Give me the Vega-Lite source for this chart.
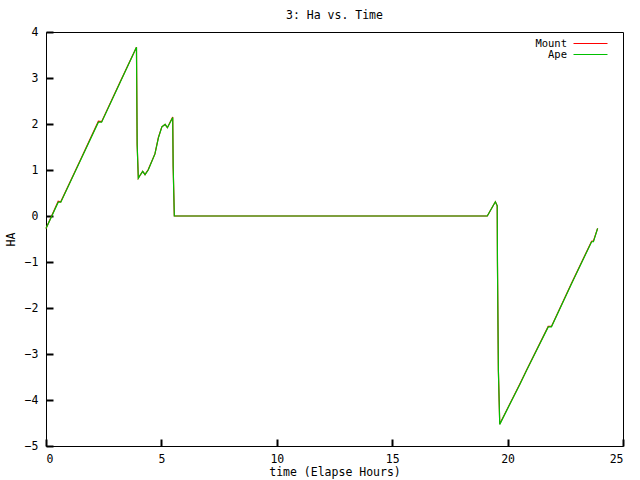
{
  "$schema": "https://vega.github.io/schema/vega-lite/v6.json",
  "width": 577,
  "height": 414,
  "autosize": {"type": "none"},
  "padding": {"left": 46, "top": 32, "right": 17, "bottom": 34},
  "background": "white",
  "title": {"text": "3: Ha vs. Time", "font": "DejaVu Sans Mono", "fontSize": 11.5, "fontWeight": "normal", "color": "black", "offset": 5},
  "config": {
    "view": {"stroke": "black", "strokeWidth": 1},
    "axis": {"grid": false, "domain": false, "ticks": true, "zindex": 1, "tickColor": "#000000", "tickWidth": 2, "tickSize": -7, "tickOpacity": 1, "labelFont": "DejaVu Sans Mono", "labelFontSize": 11.5, "labelColor": "black", "titleFont": "DejaVu Sans Mono", "titleFontSize": 11.5, "titleFontWeight": "normal", "titleColor": "black"},
    "legend": {"labelFont": "DejaVu Sans Mono", "labelFontSize": 10.5, "labelColor": "black"}
  },
  "data": {"values": [
    {"s": "Mount", "t": 0, "ha": -0.27}, {"s": "Mount", "t": 0.53, "ha": 0.32}, {"s": "Mount", "t": 0.64, "ha": 0.31}, {"s": "Mount", "t": 1.5, "ha": 1.23}, {"s": "Mount", "t": 2.27, "ha": 2.06}, {"s": "Mount", "t": 2.41, "ha": 2.05},
    {"s": "Mount", "t": 3.2, "ha": 2.9}, {"s": "Mount", "t": 3.92, "ha": 3.67}, {"s": "Mount", "t": 3.93, "ha": 2.97}, {"s": "Mount", "t": 3.95, "ha": 1.55}, {"s": "Mount", "t": 4.0, "ha": 0.82}, {"s": "Mount", "t": 4.07, "ha": 0.88},
    {"s": "Mount", "t": 4.19, "ha": 0.97}, {"s": "Mount", "t": 4.29, "ha": 0.9}, {"s": "Mount", "t": 4.43, "ha": 1.01}, {"s": "Mount", "t": 4.72, "ha": 1.35}, {"s": "Mount", "t": 4.87, "ha": 1.71}, {"s": "Mount", "t": 5.02, "ha": 1.94},
    {"s": "Mount", "t": 5.16, "ha": 1.99}, {"s": "Mount", "t": 5.26, "ha": 1.92}, {"s": "Mount", "t": 5.49, "ha": 2.15}, {"s": "Mount", "t": 5.51, "ha": 1.07}, {"s": "Mount", "t": 5.56, "ha": 0}, {"s": "Mount", "t": 19.12, "ha": 0},
    {"s": "Mount", "t": 19.47, "ha": 0.31}, {"s": "Mount", "t": 19.55, "ha": 0.22}, {"s": "Mount", "t": 19.56, "ha": -0.99}, {"s": "Mount", "t": 19.6, "ha": -3.35}, {"s": "Mount", "t": 19.66, "ha": -4.52},
    {"s": "Mount", "t": 20.54, "ha": -3.64}, {"s": "Mount", "t": 20.83, "ha": -3.34}, {"s": "Mount", "t": 21.76, "ha": -2.4}, {"s": "Mount", "t": 21.9, "ha": -2.4}, {"s": "Mount", "t": 22.78, "ha": -1.45},
    {"s": "Mount", "t": 23.64, "ha": -0.55}, {"s": "Mount", "t": 23.72, "ha": -0.54}, {"s": "Mount", "t": 23.9, "ha": -0.27},
    {"s": "Ape", "t": 0, "ha": -0.27}, {"s": "Ape", "t": 0.53, "ha": 0.3}, {"s": "Ape", "t": 0.64, "ha": 0.3}, {"s": "Ape", "t": 1.5, "ha": 1.22}, {"s": "Ape", "t": 2.27, "ha": 2.04}, {"s": "Ape", "t": 2.41, "ha": 2.04},
    {"s": "Ape", "t": 3.2, "ha": 2.89}, {"s": "Ape", "t": 3.92, "ha": 3.67}, {"s": "Ape", "t": 3.93, "ha": 2.97}, {"s": "Ape", "t": 3.95, "ha": 1.55}, {"s": "Ape", "t": 4.0, "ha": 0.82}, {"s": "Ape", "t": 4.07, "ha": 0.88},
    {"s": "Ape", "t": 4.19, "ha": 0.97}, {"s": "Ape", "t": 4.29, "ha": 0.9}, {"s": "Ape", "t": 4.43, "ha": 1.0}, {"s": "Ape", "t": 4.72, "ha": 1.35}, {"s": "Ape", "t": 4.87, "ha": 1.7}, {"s": "Ape", "t": 5.02, "ha": 1.94},
    {"s": "Ape", "t": 5.16, "ha": 1.99}, {"s": "Ape", "t": 5.26, "ha": 1.92}, {"s": "Ape", "t": 5.49, "ha": 2.14}, {"s": "Ape", "t": 5.51, "ha": 1.07}, {"s": "Ape", "t": 5.56, "ha": 0}, {"s": "Ape", "t": 19.12, "ha": 0},
    {"s": "Ape", "t": 19.47, "ha": 0.31}, {"s": "Ape", "t": 19.55, "ha": 0.22}, {"s": "Ape", "t": 19.56, "ha": -0.99}, {"s": "Ape", "t": 19.6, "ha": -3.35}, {"s": "Ape", "t": 19.66, "ha": -4.53},
    {"s": "Ape", "t": 20.54, "ha": -3.65}, {"s": "Ape", "t": 20.83, "ha": -3.35}, {"s": "Ape", "t": 21.76, "ha": -2.41}, {"s": "Ape", "t": 21.9, "ha": -2.41}, {"s": "Ape", "t": 22.78, "ha": -1.46},
    {"s": "Ape", "t": 23.64, "ha": -0.56}, {"s": "Ape", "t": 23.72, "ha": -0.56}, {"s": "Ape", "t": 23.9, "ha": -0.27}
  ]},
  "mark": {"type": "line", "strokeWidth": 1.2, "interpolate": "linear"},
  "encoding": {
    "x": {"field": "t", "type": "quantitative", "scale": {"domain": [0, 25], "nice": false, "zero": false},
          "axis": {"orient": "bottom", "values": [0, 5, 10, 15, 20, 25], "title": "time (Elapse Hours)", "labelPadding": 14, "titlePadding": 2}},
    "y": {"field": "ha", "type": "quantitative", "scale": {"domain": [-5, 4], "nice": false, "zero": false},
          "axis": {"orient": "left", "values": [-5, -4, -3, -2, -1, 0, 1, 2, 3, 4], "title": "HA", "labelPadding": 15, "titlePadding": 8}},
    "color": {"field": "s", "type": "nominal",
              "scale": {"domain": ["Mount", "Ape"], "range": ["#ff0000", "#00c000"]},
              "legend": {"title": null, "orient": "none", "legendX": 539, "legendY": 6, "symbolType": "M-3.4,0H3.4", "symbolSize": 100, "symbolStrokeWidth": 1, "labelAlign": "right", "labelOffset": -29, "rowPadding": 0, "padding": 0}}
  }
}
